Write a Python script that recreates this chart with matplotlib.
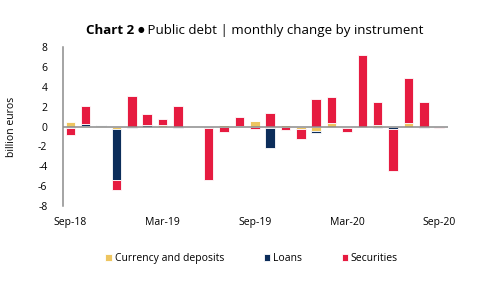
import numpy as np
import matplotlib
matplotlib.use('Agg')
import matplotlib.pyplot as plt

plt.rcParams['font.family'] = ['Open Sans', 'DejaVu Sans']
plt.rcParams['axes.unicode_minus'] = False

months = ['Sep-18', 'Oct-18', 'Nov-18', 'Dec-18', 'Jan-19', 'Feb-19', 'Mar-19',
          'Apr-19', 'May-19', 'Jun-19', 'Jul-19', 'Aug-19', 'Sep-19', 'Oct-19',
          'Nov-19', 'Dec-19', 'Jan-20', 'Feb-20', 'Mar-20', 'Apr-20', 'May-20',
          'Jun-20', 'Jul-20', 'Aug-20', 'Sep-20']
currency = [0.45, 0.10, 0.03, -0.30, 0.0, 0.0, 0.15, 0.0, 0.0, -0.05, 0.20,
            0.05, 0.55, -0.12, 0.12, -0.30, -0.50, 0.40, -0.20, 0.0, 0.15,
            0.0, 0.40, 0.0, 0.0]
loans = [-0.15, 0.15, 0.12, -5.05, -0.15, 0.20, 0.0, -0.15, 0.0, -0.10, 0.0,
         0.0, 0.0, -2.00, 0.0, 0.0, -0.15, 0.0, 0.0, 0.0, -0.15, -0.30, 0.0,
         -0.15, 0.0]
securities = [-0.75, 1.85, 0.0, -1.05, 3.10, 1.10, 0.65, 2.10, 0.0, -5.20,
              -0.60, 0.95, -0.25, 1.40, -0.40, -1.00, 2.80, 2.60, -0.35, 7.20,
              2.30, -4.20, 4.45, 2.50, -0.15]
series = [('Currency and deposits', currency, '#EEC560'),
          ('Loans', loans, '#0C2D5A'),
          ('Securities', securities, '#E61B40')]
tick_idx = [0, 6, 12, 18, 24]

fig = plt.figure(figsize=(4.84, 2.83), dpi=100)
ax = fig.add_axes([0.1295, 0.272, 0.797, 0.562])

x = np.arange(len(months))
pos = np.zeros(len(months))
neg = np.zeros(len(months))
for name, vals, color in series:
    v = np.array(vals)
    bottom = np.where(v >= 0, pos, neg)
    ax.bar(x, v, 0.62, bottom=bottom, color=color, edgecolor='white',
           linewidth=0.6, label=name, zorder=2)
    pos += np.clip(v, 0, None)
    neg += np.clip(v, None, 0)

ax.axhline(0, color='#8c8c8c', lw=1.1, zorder=3)
ax.set_xlim(-0.5, 24.6)
ax.set_ylim(-8, 8)
ax.set_yticks(range(-8, 9, 2))
ax.set_xticks(tick_idx)
ax.set_xticklabels([months[i] for i in tick_idx])
ax.tick_params(axis='both', length=0, labelsize=7.5, colors='#000000')
ax.tick_params(axis='y', pad=11)
ax.tick_params(axis='x', pad=8)
for s in ['top', 'right', 'bottom']:
    ax.spines[s].set_visible(False)
ax.spines['left'].set_color('#8c8c8c')
ax.spines['left'].set_linewidth(1.1)

fig.text(12 / 484, 0.553, 'billion euros', rotation=90, fontsize=7.5,
         ha='center', va='center')

# title in three pieces: bold label, bullet, plain text
t1 = fig.text(86 / 484, 0.868, 'Chart 2 ', fontsize=9.6, fontweight='bold',
              va='bottom', ha='left')
t2 = ax.annotate('\u25cf', xy=(1, 0.62), xycoords=t1, va='center', ha='left',
                 fontsize=5.5, family='DejaVu Sans', annotation_clip=False)
ax.annotate(' Public debt | monthly change by instrument', xy=(1, 0),
            xycoords=(t2, t1), va='bottom', ha='left', fontsize=9.6,
            annotation_clip=False)

fig.legend(loc='center', bbox_to_anchor=(0.52, 0.085), ncol=3, frameon=False,
           fontsize=7.5, handlelength=0.6, handleheight=0.6, handletextpad=0.3,
           columnspacing=3.8)

fig.savefig('out.png', dpi=100)
